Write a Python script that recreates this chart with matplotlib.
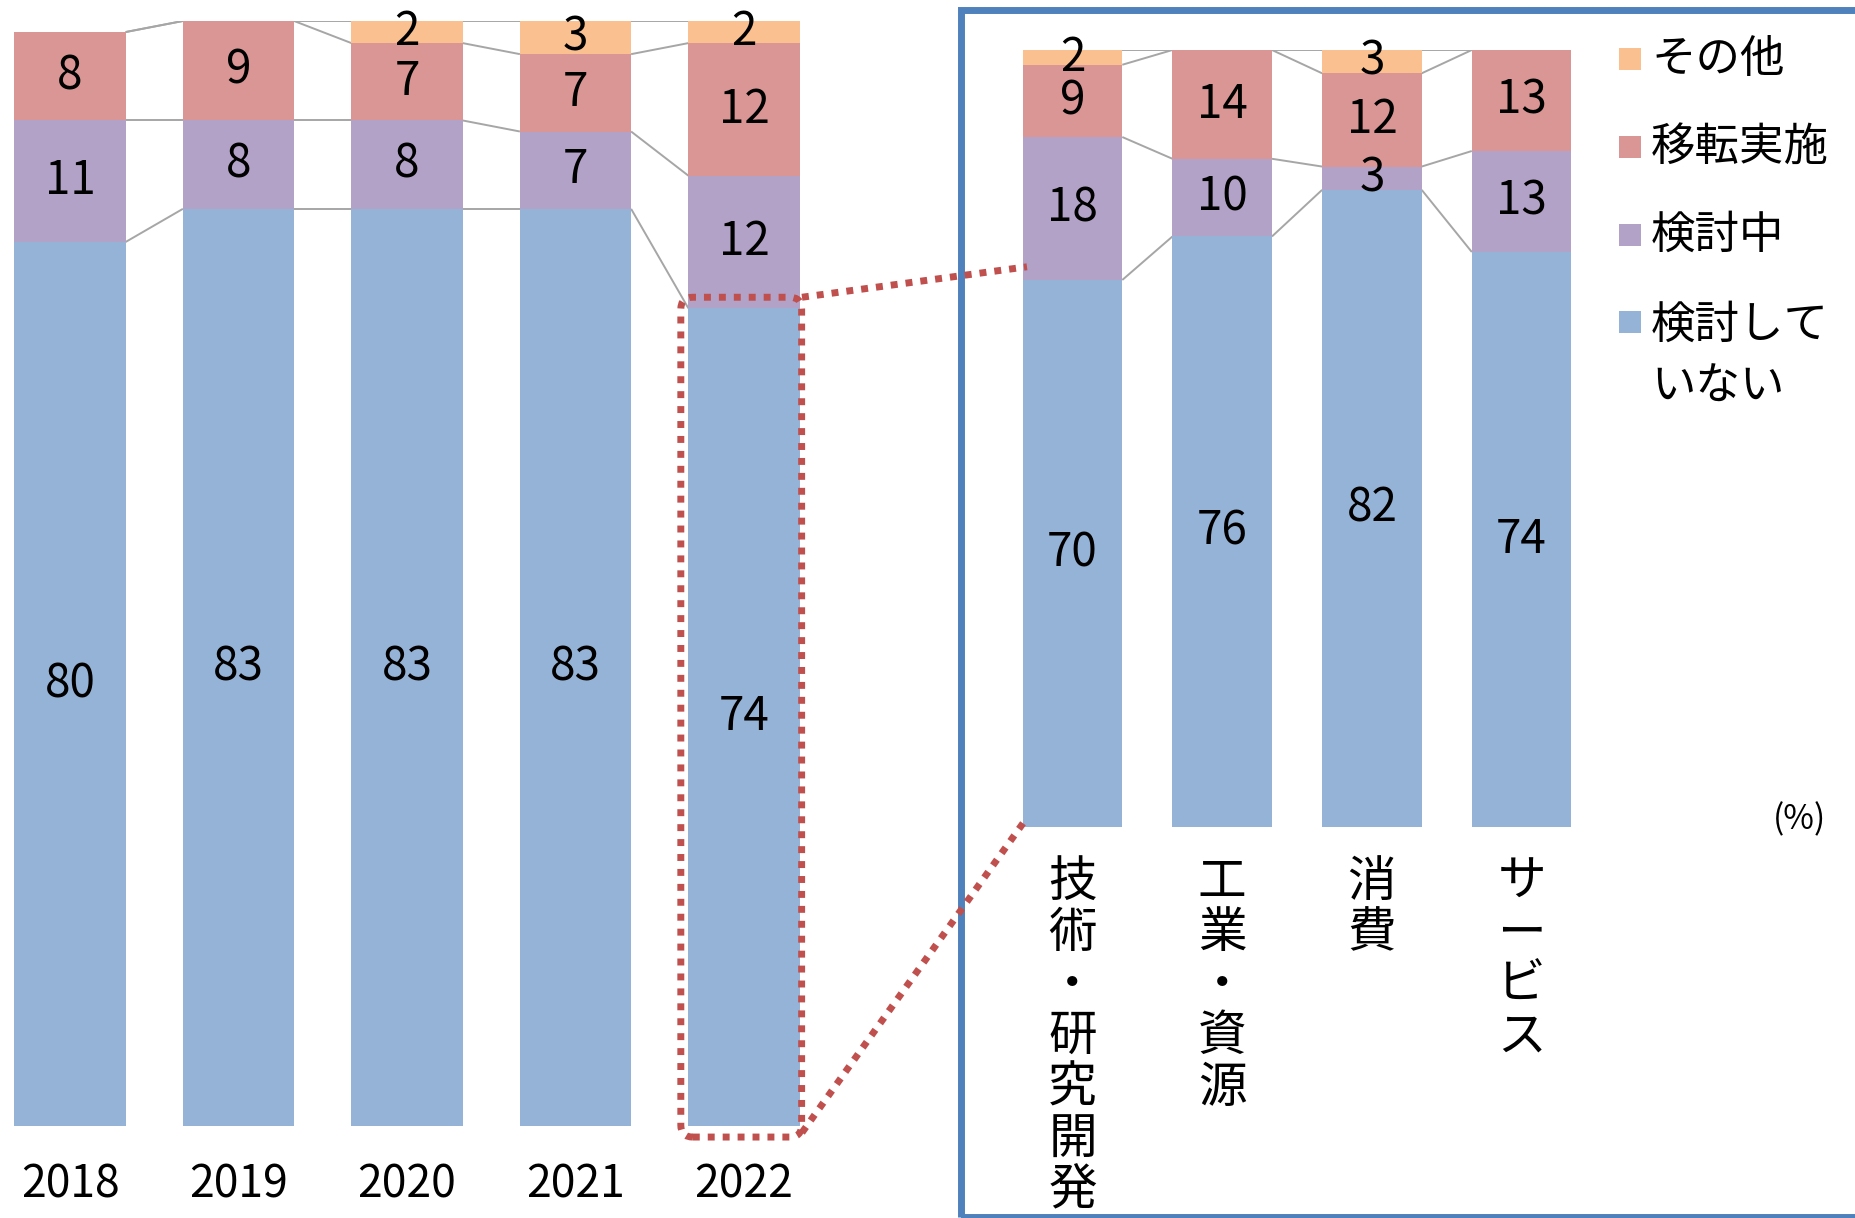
import matplotlib
matplotlib.use('Agg')
import matplotlib.pyplot as plt
import numpy as np
from matplotlib.patches import Rectangle, FancyBboxPatch
from matplotlib.lines import Line2D
from matplotlib.transforms import IdentityTransform

plt.rcParams['font.family'] = ['Noto Sans CJK JP', 'DejaVu Sans']

# ---- data ----
years = ['2018', '2019', '2020', '2021', '2022']
year_not_considering = [80, 83, 83, 83, 74]
year_considering = [11, 8, 8, 7, 12]
year_relocated = [8, 9, 7, 7, 12]
year_other = [0, 0, 2, 3, 2]

sectors = ['技術・研究開発', '工業・資源', '消費', 'サービス']
sec_not_considering = [70.4, 76, 82, 74]
sec_considering = [18.4, 10, 3, 13]
sec_relocated = [9.3, 14, 12, 13]
sec_other = [1.9, 0, 3, 0]

series_names = ['検討していない', '検討中', '移転実施', 'その他']
legend_labels = ['検討して\nいない', '検討中', '移転実施', 'その他']
colors = ['#95B3D7', '#B3A2C7', '#D99694', '#FAC090']
unit_label = '(%)'

W, H = 1855, 1218
fig = plt.figure(figsize=(W / 100, H / 100), dpi=100)


def px_axes(x0, x1, ytop, ybot):
    return fig.add_axes([x0 / W, (H - ybot) / H, (x1 - x0) / W, (ybot - ytop) / H])


def px(x, y):
    """top-left pixel coords -> display coords"""
    return x, H - y


axL = px_axes(0, 840, 21, 1126)
axL.set_xlim(-70 / 168.5, 770 / 168.5)
axR = px_axes(980, 1600, 50, 827)
axR.set_xlim((980 - 1072.5) / 149.7, (1600 - 1072.5) / 149.7)

LBL = 33


def stacked(ax, cats, data, width):
    x = np.arange(len(cats))
    bottom = np.zeros(len(cats))
    tops = []
    for vals, c in zip(data, colors):
        vals = np.array(vals, float)
        ax.bar(x, vals, width, bottom=bottom, color=c, edgecolor='none', zorder=2)
        for xi, b, v in zip(x, bottom, vals):
            if v > 0:
                ax.text(xi, b + v / 2, f'{v:.0f}', ha='center', va='center',
                        fontsize=LBL, zorder=5, clip_on=False)
        bottom = bottom + vals
        tops.append(bottom.copy())
    for t in tops:
        for i in range(len(cats) - 1):
            ax.plot([x[i] + width / 2, x[i + 1] - width / 2], [t[i], t[i + 1]],
                    color='#A6A6A6', lw=1.4, zorder=1, solid_capstyle='butt')
    ax.set_ylim(0, 100)
    ax.axis('off')


stacked(axL, years, [year_not_considering, year_considering, year_relocated, year_other], 0.66)
stacked(axR, sectors, [sec_not_considering, sec_considering, sec_relocated, sec_other], 0.665)

for i, y in enumerate(years):
    axL.text(i, -5.3, y, ha='center', va='center', fontsize=32, clip_on=False)

for i, s in enumerate(sectors):
    axR.text(i, -3.9, '\n'.join(list(s)), ha='center', va='top', fontsize=35,
             linespacing=1.05, clip_on=False)

# ---- blue frame ----
fig.add_artist(Rectangle(px(961, 1217), 1870 - 961, 1217 - 10, fill=False,
                         edgecolor='#4F81BD', lw=5, transform=IdentityTransform()))

# ---- red dotted highlight ----
red = '#C0504D'
dots = (0, (1, 1.15))
bx0, by0 = axL.transData.transform((4 - 0.33 - 0.045, -1.0))
bx1, by1 = axL.transData.transform((4 + 0.33 + 0.012, 75.0))
fig.add_artist(FancyBboxPatch((bx0, by0), bx1 - bx0, by1 - by0,
                              boxstyle='round,pad=0,rounding_size=12', fill=False,
                              edgecolor=red, lw=5, linestyle=dots,
                              transform=IdentityTransform()))
for (ly0, ry) in [(75.0, 72.1), (-0.6, 1.2)]:
    a = axL.transData.transform((4 + 0.344, ly0))
    b = axR.transData.transform((-0.304, ry))
    fig.add_artist(Line2D([a[0], b[0]], [a[1], b[1]], color=red, lw=5,
                          linestyle=dots, dash_capstyle='butt',
                          transform=IdentityTransform()))

# ---- legend ----
leg_y = [322, 235, 147, 59]
for lab, c, yc in zip(legend_labels, colors, leg_y):
    fig.add_artist(Rectangle(px(1619, yc + 11), 22, 22, facecolor=c, edgecolor='none',
                             transform=IdentityTransform()))
    if '\n' in lab:
        fig.text(1651 / W, (H - yc + 20) / H, lab, ha='left', va='top', fontsize=32,
                 linespacing=1.45)
    else:
        fig.text(1651 / W, (H - yc) / H, lab, ha='left', va='center', fontsize=32)

fig.text(1800 / W, (H - 820) / H, unit_label, ha='center', va='center', fontsize=24)

fig.savefig('out.png', dpi=100)
